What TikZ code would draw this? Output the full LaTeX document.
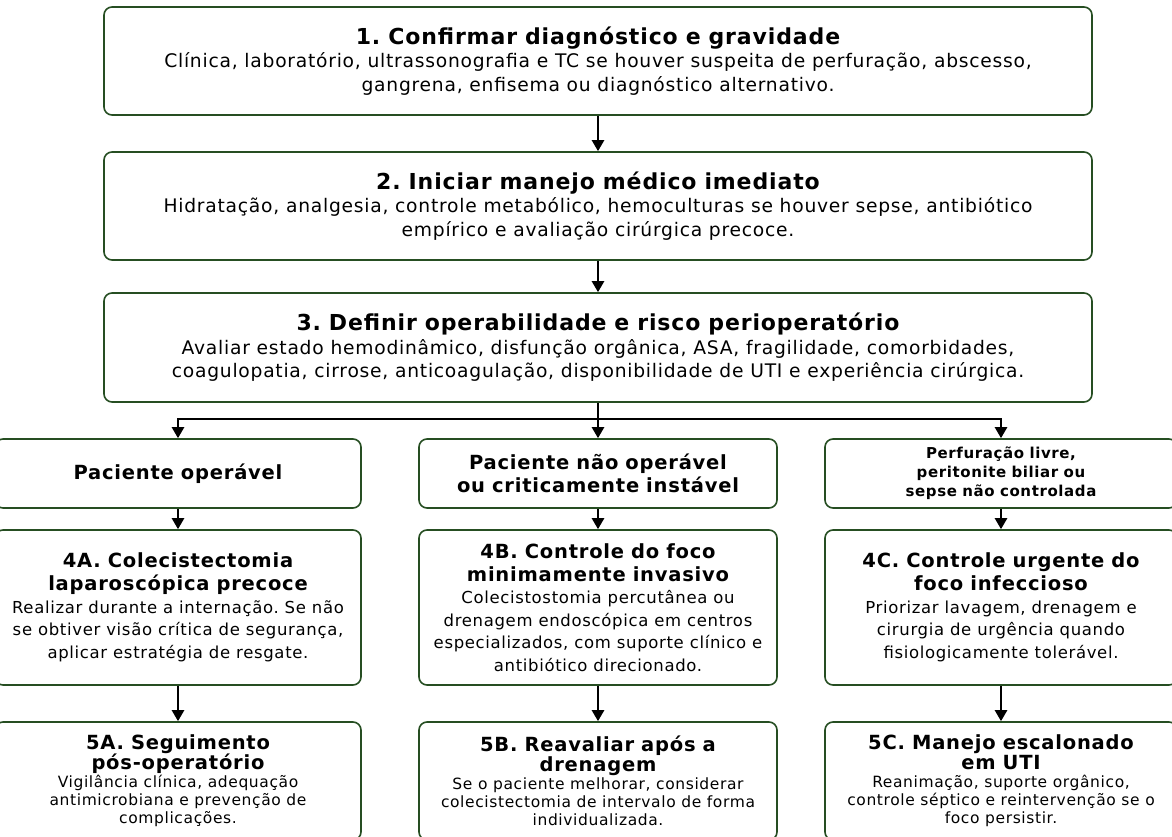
\documentclass[tikz,border=0pt]{standalone}
\usepackage{fontspec}
\setmainfont{DejaVu Sans}[LetterSpace=4]
\usepackage{xcolor}
\usetikzlibrary{arrows.meta, positioning}
\definecolor{cFrame}{RGB}{38,78,34}
\tikzset{
	stepbox/.style={rectangle, rounded corners=8pt, draw=cFrame, line width=1.6pt, fill=white, align=flush center, inner sep=0pt},
	flowarrow/.style={-{Triangle[width=12pt,length=11pt]}, line width=2.4pt},
	flowline/.style={line width=2.4pt},
}
% font sizes
\newcommand{\wordgap}{\spaceskip=0.36em\relax\xspaceskip=0.36em\relax}
\newcommand{\bigtitle}[1]{{\bfseries\fontsize{22}{25}\selectfont\wordgap #1\par}}
\newcommand{\bigbody}[1]{{\fontsize{18.7}{23.5}\selectfont\wordgap #1\par}}
\newcommand{\midtitle}[1]{{\bfseries\fontsize{19.5}{23}\selectfont\wordgap #1\par}}
\newcommand{\smalltitle}[1]{{\bfseries\fontsize{15}{19}\selectfont\wordgap #1\par}}
\newcommand{\boxbody}[1]{{\fontsize{16.5}{22.5}\selectfont\wordgap #1\par}}
\newcommand{\lasttitle}[1]{{\bfseries\fontsize{19.5}{20}\selectfont\wordgap #1\par}}
\newcommand{\lastbody}[1]{{\fontsize{15.5}{18}\selectfont\wordgap #1\par}}

\begin{document}
\begin{tikzpicture}[x=1pt, y=-1pt]
	\useasboundingbox (0,0) rectangle (1172,837);
	% main steps
	\node[stepbox, minimum width=988pt, minimum height=108pt, text width=970pt] (confirm) at (598,61)
		{\bigtitle{1. Confirmar diagnóstico e gravidade}\bigbody{Clínica, laboratório, ultrassonografia e TC se houver suspeita de perfuração, abscesso,\\gangrena, enfisema ou diagnóstico alternativo.}};
	\node[stepbox, minimum width=988pt, minimum height=108pt, text width=970pt] (manage) at (598,206)
		{\bigtitle{2. Iniciar manejo médico imediato}\bigbody{Hidratação, analgesia, controle metabólico, hemoculturas se houver sepse, antibiótico\\empírico e avaliação cirúrgica precoce.}};
	\node[stepbox, minimum width=988pt, minimum height=109pt, text width=970pt] (risk) at (598,347.5)
		{\bigtitle{3. Definir operabilidade e risco perioperatório}\bigbody{Avaliar estado hemodinâmico, disfunção orgânica, ASA, fragilidade, comorbidades,\\coagulopatia, cirrose, anticoagulação, disponibilidade de UTI e experiência cirúrgica.}};
	\coordinate (split) at (598,419);
	% branches
	\node[stepbox, minimum width=366pt, minimum height=69pt, text width=350pt] (caseA) at (178,473.5)
		{\midtitle{Paciente operável}};
	\node[stepbox, minimum width=358pt, minimum height=69pt, text width=340pt] (caseB) at (598,473.5)
		{\midtitle{Paciente não operável\\ou criticamente instável}};
	\node[stepbox, minimum width=352pt, minimum height=69pt, text width=340pt] (caseC) at (1001,473.5)
		{\smalltitle{Perfuração livre,\\peritonite biliar ou\\sepse não controlada}};
	% actions
	\node[stepbox, minimum width=366pt, minimum height=155pt, text width=350pt] (actA) at (178,607.5)
		{\midtitle{4A. Colecistectomia\\laparoscópica precoce}\boxbody{Realizar durante a internação. Se não\\se obtiver visão crítica de segurança,\\aplicar estratégia de resgate.}};
	\node[stepbox, minimum width=358pt, minimum height=155pt, text width=340pt] (actB) at (598,607.5)
		{\midtitle{4B. Controle do foco\\minimamente invasivo}\boxbody{Colecistostomia percutânea ou\\drenagem endoscópica em centros\\especializados, com suporte clínico e\\antibiótico direcionado.}};
	\node[stepbox, minimum width=352pt, minimum height=155pt, text width=340pt] (actC) at (1001,607.5)
		{\midtitle{4C. Controle urgente do\\foco infeccioso}\boxbody{Priorizar lavagem, drenagem e\\cirurgia de urgência quando\\fisiologicamente tolerável.}};
	% follow-up
	\node[stepbox, minimum width=366pt, minimum height=118pt, text width=350pt] (nextA) at (178,781)
		{\lasttitle{5A. Seguimento\\pós-operatório}\lastbody{Vigilância clínica, adequação\\antimicrobiana e prevenção de\\complicações.}};
	\node[stepbox, minimum width=358pt, minimum height=118pt, text width=340pt] (nextB) at (598,781)
		{\lasttitle{5B. Reavaliar após a\\drenagem}\lastbody{Se o paciente melhorar, considerar\\colecistectomia de intervalo de forma\\individualizada.}};
	\node[stepbox, minimum width=352pt, minimum height=118pt, text width=340pt] (nextC) at (1001,781)
		{\lasttitle{5C. Manejo escalonado\\em UTI}\lastbody{Reanimação, suporte orgânico,\\controle séptico e reintervenção se o\\foco persistir.}};
	% connectors
	\draw[flowarrow] (confirm) -- (manage);
	\draw[flowarrow] (manage) -- (risk);
	\draw[flowline] (risk) -- (split);
	\draw[flowarrow] (split) -| (caseA.north);
	\draw[flowarrow] (split) -- (caseB.north);
	\draw[flowarrow] (split) -| (caseC.north);
	\foreach \col in {A,B,C} {
		\draw[flowarrow] (case\col) -- (act\col);
		\draw[flowarrow] (act\col) -- (next\col);
	}
\end{tikzpicture}
\end{document}
